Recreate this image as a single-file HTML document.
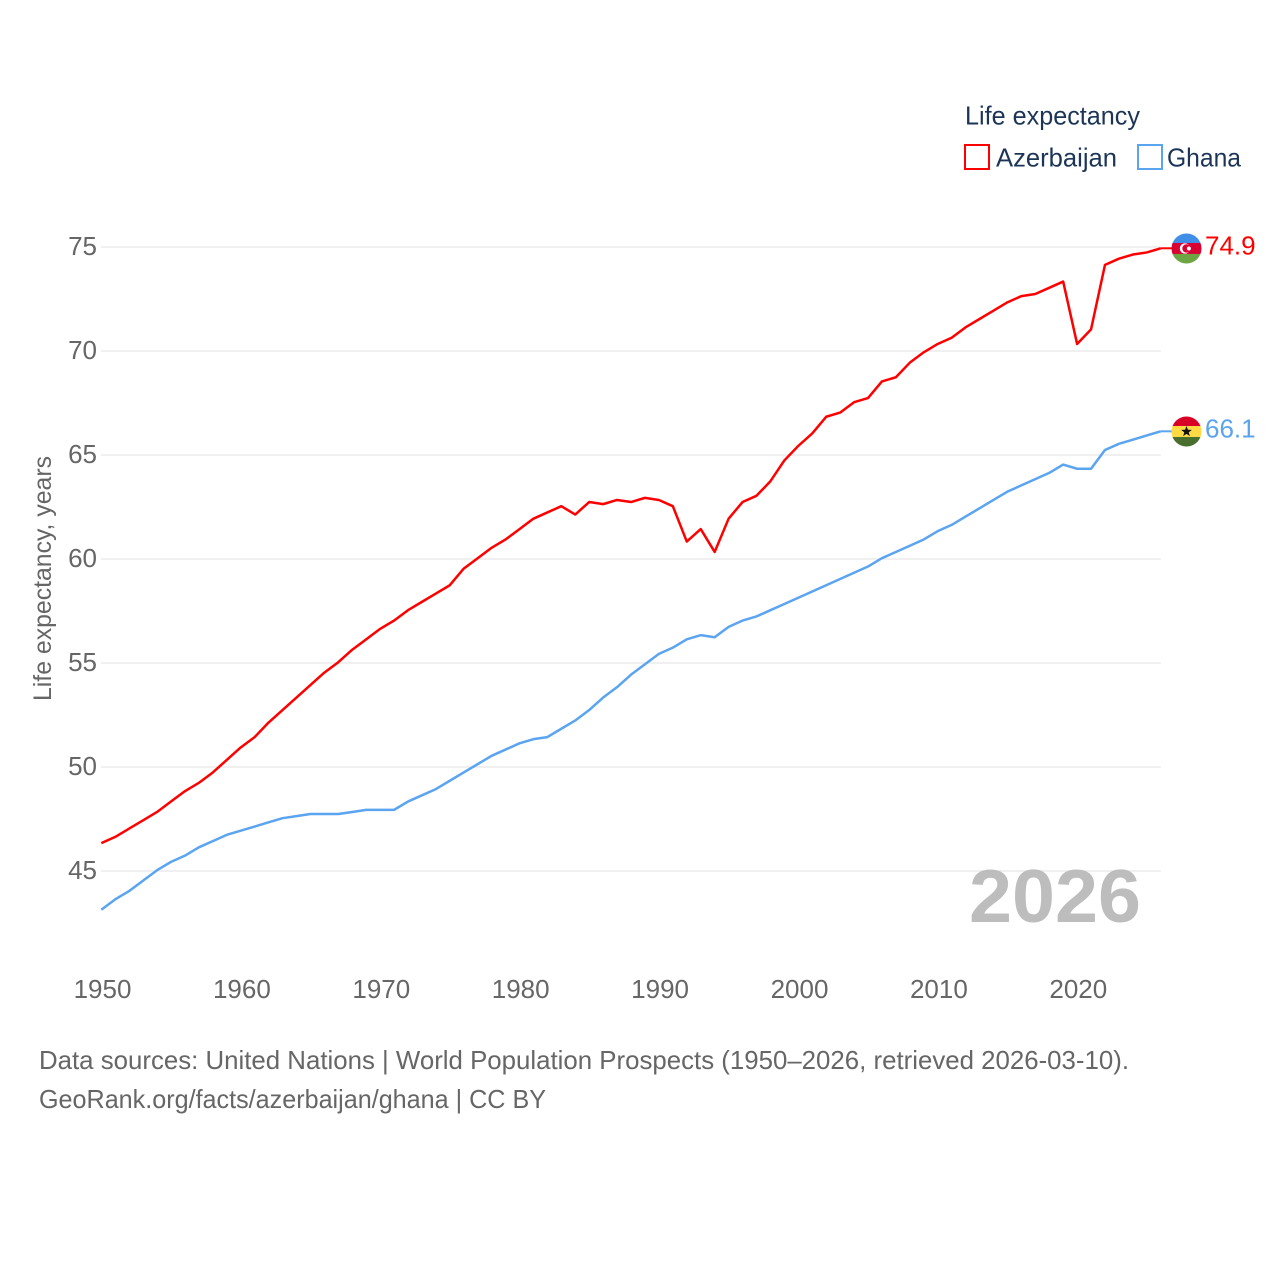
<!DOCTYPE html>
<html lang="en">
<head>
<meta charset="utf-8">
<title>Life expectancy: Azerbaijan and Ghana</title>
<style>
html,body{margin:0;padding:0;background:#fff;width:1280px;height:1280px;overflow:hidden}
svg{display:block}
text{font-family:"Liberation Sans",sans-serif}
</style>
</head>
<body>
<svg id="chart" width="1280" height="1280" viewBox="0 0 1280 1280" xmlns="http://www.w3.org/2000/svg">
<defs>
<clipPath id="flag-clip"><circle cx="0" cy="0" r="15"></circle></clipPath>
</defs>
<rect x="0" y="0" width="1280" height="1280" fill="#ffffff"></rect>
<g id="grid"></g>
<g id="yticks"></g>
<g id="xticks"></g>
<text transform="translate(51,701) rotate(-90)" font-size="25" fill="#666666" textLength="245" lengthAdjust="spacingAndGlyphs">Life expectancy, years</text>
<text x="969" y="922" font-size="75" font-weight="700" fill="#bdbdbd" textLength="172" lengthAdjust="spacingAndGlyphs">2026</text>
<g id="series"></g>
<g id="ends"></g>
<g>
<text x="965" y="124.5" font-size="26" fill="#1c3557" textLength="175" lengthAdjust="spacingAndGlyphs">Life expectancy</text>
<g>
<rect x="965" y="145" width="24" height="24" fill="#ffffff" stroke="#ff0000" stroke-width="2"></rect>
<text x="996" y="166.5" font-size="26" fill="#1c3557" textLength="121" lengthAdjust="spacingAndGlyphs">Azerbaijan</text>
</g>
<g>
<rect x="1138" y="145" width="24" height="24" fill="#ffffff" stroke="#5ba4f0" stroke-width="2"></rect>
<text x="1167" y="166.5" font-size="26" fill="#1c3557" textLength="74" lengthAdjust="spacingAndGlyphs">Ghana</text>
</g>
</g>
<text x="39" y="1069" font-size="26" fill="#666666" textLength="1090" lengthAdjust="spacingAndGlyphs">Data sources: United Nations | World Population Prospects (1950–2026, retrieved 2026-03-10).</text>
<text x="39" y="1108" font-size="26" fill="#666666" textLength="507" lengthAdjust="spacingAndGlyphs">GeoRank.org/facts/azerbaijan/ghana | CC BY</text>
</svg>
<script>
const startYear = 1950;
const azerbaijanValues = [46.3,46.6,47.0,47.4,47.8,48.3,48.8,49.2,49.7,50.3,50.9,51.4,52.1,52.7,53.3,53.9,54.5,55.0,55.6,56.1,56.6,57.0,57.5,57.9,58.3,58.7,59.5,60.0,60.5,60.9,61.4,61.9,62.2,62.5,62.1,62.7,62.6,62.8,62.7,62.9,62.8,62.5,60.8,61.4,60.3,61.9,62.7,63.0,63.7,64.7,65.4,66.0,66.8,67.0,67.5,67.7,68.5,68.7,69.4,69.9,70.3,70.6,71.1,71.5,71.9,72.3,72.6,72.7,73.0,73.3,70.3,71.0,74.1,74.4,74.6,74.7,74.9];
const ghanaValues = [43.1,43.6,44.0,44.5,45.0,45.4,45.7,46.1,46.4,46.7,46.9,47.1,47.3,47.5,47.6,47.7,47.7,47.7,47.8,47.9,47.9,47.9,48.3,48.6,48.9,49.3,49.7,50.1,50.5,50.8,51.1,51.3,51.4,51.8,52.2,52.7,53.3,53.8,54.4,54.9,55.4,55.7,56.1,56.3,56.2,56.7,57.0,57.2,57.5,57.8,58.1,58.4,58.7,59.0,59.3,59.6,60.0,60.3,60.6,60.9,61.3,61.6,62.0,62.4,62.8,63.2,63.5,63.8,64.1,64.5,64.3,64.3,65.2,65.5,65.7,65.9,66.1];
const yTickValues = [45,50,55,60,65,70,75];
const xTickValues = [1950,1960,1970,1980,1990,2000,2010,2020];

const NS = 'http://www.w3.org/2000/svg';
function xScale(year){ return 101.3 + (year - 1950) * 13.94; }
function yScale(v){ return 247 + (75 - v) * 20.8; }
function make(tag, parent, attrs, text){
  const el = document.createElementNS(NS, tag);
  for (const k in attrs) el.setAttribute(k, attrs[k]);
  if (text !== undefined) el.textContent = text;
  parent.appendChild(el);
  return el;
}

const grid = document.getElementById('grid');
const yticks = document.getElementById('yticks');
yTickValues.forEach(function(v){
  const line = make('line', grid, {x1:101, x2:1161, y1:yScale(v), y2:yScale(v), stroke:'#ebebeb', 'stroke-width':1.6});
  
  
  const label = make('text', yticks, {x:97, y:yScale(v)+8, 'text-anchor':'end', 'font-size':26, fill:'#666666'}, String(v));
  
  
});

const xticks = document.getElementById('xticks');
xTickValues.forEach(function(y){
  const label = make('text', xticks, {x:xScale(y)+1.2, y:998, 'text-anchor':'middle', 'font-size':26, fill:'#666666'}, String(y));
  
  
});

function pathFor(values){
  return values.map(function(v,i){
    return (i ? 'L' : 'M') + xScale(startYear + i).toFixed(2) + ' ' + (yScale(v) - 0.8).toFixed(2);
  }).join(' ');
}

const series = document.getElementById('series');
const ghanaLine = make('path', series, {d:pathFor(ghanaValues), fill:'none', stroke:'#5ba4f0', 'stroke-width':2.5, 'stroke-linejoin':'round'});


const azerbaijanLine = make('path', series, {d:pathFor(azerbaijanValues), fill:'none', stroke:'#ff0000', 'stroke-width':2.5, 'stroke-linejoin':'round'});



const ends = document.getElementById('ends');
const lastYear = startYear + azerbaijanValues.length - 1;
const endX = xScale(lastYear);

function endLabel(values, color){
  const v = values[values.length - 1];
  const y = yScale(v) - 0.8;
  const link = make('line', ends, {x1:endX, x2:1172, y1:y, y2:y, stroke:color, 'stroke-width':2});
  const text = make('text', ends, {x:1205, y:y+6, 'font-size':26, fill:color}, v.toFixed(1));
  const flag = make('g', ends, {transform:'translate(1186.5,' + (y + 0.2) + ')', 'clip-path':'url(#flag-clip)'});
  return {link:link, text:text, flag:flag};
}

const azEnd = endLabel(azerbaijanValues, '#ff0000');






make('rect', azEnd.flag, {x:-15, y:-16, width:30, height:11, fill:'#3f8ee8'});
make('rect', azEnd.flag, {x:-15, y:-5.5, width:30, height:11, fill:'#d80032'});
make('rect', azEnd.flag, {x:-15, y:5.5, width:30, height:11, fill:'#6da544'});
make('circle', azEnd.flag, {cx:-1.5, cy:0, r:5.2, fill:'#ffffff'});
make('circle', azEnd.flag, {cx:0, cy:0, r:4.2, fill:'#d80032'});
make('circle', azEnd.flag, {cx:2.4, cy:0, r:2, fill:'#ffffff'});

const ghEnd = endLabel(ghanaValues, '#5ba4f0');






make('rect', ghEnd.flag, {x:-15, y:-16, width:30, height:11, fill:'#d80027'});
make('rect', ghEnd.flag, {x:-15, y:-5.5, width:30, height:11, fill:'#ffda44'});
make('rect', ghEnd.flag, {x:-15, y:5.5, width:30, height:11, fill:'#496e2d'});
make('polygon', ghEnd.flag, {points:'0,-5.5 1.4,-1.8 5.4,-1.7 2.2,0.8 3.4,4.6 0,2.4 -3.4,4.6 -2.2,0.8 -5.4,-1.7 -1.4,-1.8', fill:'#111111'});
</script>
</body>
</html>
